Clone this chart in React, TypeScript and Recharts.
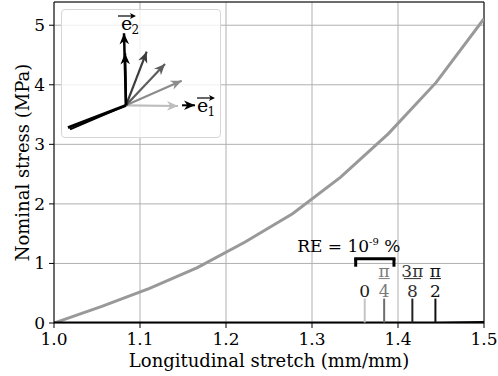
import React from 'react';
import { LineChart, Line, XAxis, YAxis, CartesianGrid, ReferenceLine } from 'recharts';

// ---- main data ----
const stretch = [1.0, 1.0556, 1.1111, 1.1667, 1.2222, 1.2778, 1.3333, 1.3889, 1.4444, 1.5];
const stressFiber = [0, 0.28, 0.58, 0.93, 1.36, 1.84, 2.45, 3.18, 4.04, 5.11];
const stressTransverse = [0, 0, 0, 0, 0, 0, 0, 0, 0, 0.01];
const xTicks = [1.0, 1.1, 1.2, 1.3, 1.4, 1.5];
const yTicks = [0, 1, 2, 3, 4, 5];
const xMin = 1.0;
const xMax = 1.5;
const yMax = 5.39;
const xTitle = 'Longitudinal stretch (mm/mm)';
const yTitle = 'Nominal stress (MPa)';

// angle markers
const markerX = [1.3613, 1.3839, 1.4167, 1.4435];
const markerNum = ['0', 'π', '3π', 'π'];
const markerDen = ['', '4', '8', '2'];
const markerColors = ['#c4c4c4', '#6e6e6e', '#222222', '#111111'];
const markerLabelColors = ['#1a1a1a', '#7a7a7a', '#333333', '#111111'];
const markerTop = 0.41;

// relative error bracket
const bracketX = [1.3508, 1.3953];
const bracketY = [1.08, 0.945];
const reText = 'RE = 10';
const reExp = '-9';
const reUnit = ' %';

// ---- inset vectors (pixel-equivalent units, y up) ----
const vecX0 = [0, 0, 56, 0, 0, 0, 0, 0, 0];
const vecY0 = [0, 0, 0, 0, 0, 0, 0, 0, 0];
const vecDx = [-58, -56, 13, 52, 55.7, 39, 20.7, -1, -2];
const vecDy = [-22.4, -24, 0, -0.7, 24.6, 41.3, 53.6, 52, 72];
const vecColors = ['#000000', '#000000', '#000000', '#bdbdbd', '#8c8c8c', '#5e5e5e', '#3d3d3d', '#000000', '#000000'];
const vecWidths = [3, 2, 2, 2.2, 2.2, 2.2, 2.2, 2.5, 2.5];
const vecHead = [false, false, true, true, true, true, true, true, true];

const FONT = 'DejaVu Serif';
const FS = 17;
const FS_TITLE = 18;

const curveData = stretch.map((x, i) => ({ x, y: stressFiber[i] }));
const zeroData = stretch.map((x, i) => ({ x, y: stressTransverse[i] }));

const MarkerLabel = (idx: number) => (props: any) => {
  const vb = props.viewBox || {};
  const x = vb.x;
  const top = vb.y;
  const col = markerLabelColors[idx];
  if (!markerDen[idx]) {
    return (
      <text x={x} y={top - 2} textAnchor="middle" fontFamily={FONT} fontSize={FS} fill={col}>
        {markerNum[idx]}
      </text>
    );
  }
  const w = markerNum[idx].length > 1 ? 17 : 11;
  return (
    <g>
      <text x={x} y={top - 22} textAnchor="middle" fontFamily={FONT} fontSize={FS} fill={col}>
        {markerNum[idx]}
      </text>
      <line x1={x - w / 2} x2={x + w / 2} y1={top - 20} y2={top - 20} stroke={col} strokeWidth={1} />
      <text x={x} y={top - 2} textAnchor="middle" fontFamily={FONT} fontSize={FS} fill={col}>
        {markerDen[idx]}
      </text>
    </g>
  );
};

const RELabel = (props: any) => {
  const vb = props.viewBox || {};
  const cx = vb.x + vb.width / 2 - 26;
  return (
    <text x={cx} y={vb.y - 7} textAnchor="middle" fontFamily={FONT} fontSize={FS} fill="#000">
      {reText}
      <tspan dy={-7} fontSize={10}>{reExp}</tspan>
      <tspan dy={7}>{reUnit}</tspan>
    </text>
  );
};

const YLabel = (props: any) => {
  const vb = props.viewBox || {};
  const cy = vb.y + vb.height / 2;
  const x = 22;
  return (
    <text x={x} y={cy} transform={`rotate(-90 ${x} ${cy})`} textAnchor="middle" dominantBaseline="central" fontFamily={FONT} fontSize={FS_TITLE} fill="#000">
      {yTitle}
    </text>
  );
};

const XLabel = (props: any) => {
  const vb = props.viewBox || {};
  const cx = vb.x + vb.width / 2;
  return (
    <text x={cx} y={367} textAnchor="middle" fontFamily={FONT} fontSize={FS_TITLE} fill="#000">
      {xTitle}
    </text>
  );
};

// inset geometry
const INSET_W = 160;
const INSET_H = 129;
const ORIGIN_X = 65;
const ORIGIN_Y = 96.3;

const arrowHead = (dx: number, dy: number, color: string, show: boolean) => (p: any) => {
  if (!show || p.index !== 1) return <g key={`n${p.index}`} />;
  const ang = Math.atan2(-dy, dx);
  const L = 11;
  const W = 4.8;
  const c = Math.cos(ang), s = Math.sin(ang);
  const bx = p.cx - L * c, by = p.cy - L * s;
  const nx = p.cx - 0.7 * L * c, ny = p.cy - 0.7 * L * s;
  const lx = bx - W * s, ly = by + W * c;
  const rx = bx + W * s, ry = by - W * c;
  return (
    <polygon key={`h${p.index}`} points={`${p.cx},${p.cy} ${lx},${ly} ${nx},${ny} ${rx},${ry}`} fill={color} stroke="none" />
  );
};

const Inset = () => (
  <LineChart width={INSET_W} height={INSET_H} margin={{ top: 0, right: 0, bottom: 0, left: 0 }}>
    <XAxis type="number" dataKey="x" domain={[-ORIGIN_X, INSET_W - ORIGIN_X]} hide allowDataOverflow />
    <YAxis type="number" domain={[-(INSET_H - ORIGIN_Y), ORIGIN_Y]} hide allowDataOverflow />
    {vecDx.map((dx, i) => (
      <Line
        key={i}
        data={[
          { x: vecX0[i], y: vecY0[i] },
          { x: vecX0[i] + dx, y: vecY0[i] + vecDy[i] },
        ]}
        dataKey="y"
        stroke={vecColors[i]}
        strokeWidth={vecWidths[i]}
        dot={arrowHead(dx, vecDy[i], vecColors[i], vecHead[i])}
        activeDot={false}
        isAnimationActive={false}
      />
    ))}
  </LineChart>
);

export default function App() {
  return (
    <div style={{ position: 'absolute', left: 0, top: 0, width: 498, height: 376, background: '#fff' }}>
      <LineChart width={498} height={376} margin={{ top: 2, right: 14, bottom: 0, left: 0 }}>
        <CartesianGrid stroke="#b0b0b0" strokeWidth={1} />
        <XAxis
          type="number"
          dataKey="x"
          domain={[xMin, xMax]}
          ticks={xTicks}
          tickFormatter={(v: number) => v.toFixed(1)}
          height={53}
          stroke="#000"
          tickSize={5}
          tickMargin={5}
          tick={{ fontFamily: FONT, fontSize: FS, fill: '#000' }}
          allowDataOverflow
          label={{ content: XLabel }}
        />
        <YAxis
          type="number"
          domain={[0, yMax]}
          ticks={yTicks}
          width={54}
          stroke="#000"
          tickSize={5}
          tickMargin={4}
          tick={{ fontFamily: FONT, fontSize: FS, fill: '#000' }}
          allowDataOverflow
          label={{ content: YLabel }}
        />
        <ReferenceLine y={yMax} stroke="#000" strokeWidth={1} />
        <ReferenceLine x={xMax} stroke="#000" strokeWidth={1} />
        <Line data={curveData} dataKey="y" stroke="#999999" strokeWidth={3} dot={false} activeDot={false} isAnimationActive={false} />
        <Line data={zeroData} dataKey="y" stroke="#000000" strokeWidth={3} dot={false} activeDot={false} isAnimationActive={false} />
        {markerX.map((mx, i) => (
          <ReferenceLine
            key={`m${i}`}
            segment={[{ x: mx, y: 0 }, { x: mx, y: markerTop }]}
            stroke={markerColors[i]}
            strokeWidth={2}
            label={{ content: MarkerLabel(i) }}
          />
        ))}
        <ReferenceLine segment={[{ x: bracketX[0], y: bracketY[0] }, { x: bracketX[1], y: bracketY[0] }]} stroke="#000" strokeWidth={3} strokeLinecap="square" label={{ content: RELabel }} />
        <ReferenceLine segment={[{ x: bracketX[0], y: bracketY[0] }, { x: bracketX[0], y: bracketY[1] }]} stroke="#000" strokeWidth={3} />
        <ReferenceLine segment={[{ x: bracketX[1], y: bracketY[0] }, { x: bracketX[1], y: bracketY[1] }]} stroke="#000" strokeWidth={3} />
      </LineChart>
      <div
        style={{
          position: 'absolute',
          left: 61,
          top: 9,
          width: INSET_W,
          height: INSET_H,
          boxSizing: 'border-box',
          border: '1px solid #d6d6d6',
          borderRadius: 4,
          background: 'rgba(255,255,255,0.8)',
        }}
      />
      <div style={{ position: 'absolute', left: 61, top: 9 }}>
        <Inset />
      </div>
      <svg width={498} height={376} style={{ position: 'absolute', left: 0, top: 0, pointerEvents: 'none' }}>
        <g fontFamily={FONT} fill="#000">
          <text x={121} y={30} fontSize={19}>e</text>
          <text x={131.5} y={34} fontSize={12}>2</text>
          <line x1={118} x2={133} y1={16} y2={16} stroke="#000" strokeWidth={1.2} />
          <polygon points="136,16 130,13 131.5,16 130,19" fill="#000" />
          <text x={197} y={112} fontSize={19}>e</text>
          <text x={207.5} y={116} fontSize={12}>1</text>
          <line x1={197} x2={212} y1={98} y2={98} stroke="#000" strokeWidth={1.2} />
          <polygon points="215,98 209,95 210.5,98 209,101" fill="#000" />
        </g>
      </svg>
    </div>
  );
}
